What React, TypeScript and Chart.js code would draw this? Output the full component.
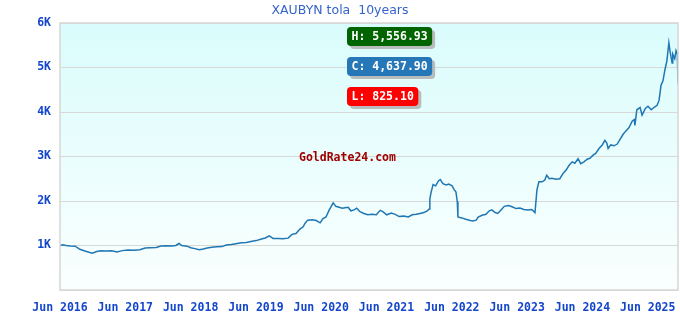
import React, { useEffect, useRef } from "react";
import { Chart, registerables } from "chart.js";

Chart.register(...registerables);

const chartTitle = "XAUBYN tola  10years";
const watermarkText = "GoldRate24.com";

const xTickValues = [2016.4167, 2017.4167, 2018.4167, 2019.4167, 2020.4167, 2021.4167, 2022.4167, 2023.4167, 2024.4167, 2025.4167];
const xTickLabels = ["Jun 2016", "Jun 2017", "Jun 2018", "Jun 2019", "Jun 2020", "Jun 2021", "Jun 2022", "Jun 2023", "Jun 2024", "Jun 2025"];
const yTickValues = [0, 1000, 2000, 3000, 4000, 5000, 6000];
const yTickLabels = ["", "1K", "2K", "3K", "4K", "5K", "6K"];

const highValue = 5556.93;
const closeValue = 4637.9;
const lowValue = 825.1;

const years = [
  2016.42, 2016.46, 2016.51, 2016.57, 2016.65, 2016.72, 2016.81, 2016.91, 2016.98, 2017.04,
  2017.12, 2017.21, 2017.29, 2017.37, 2017.46, 2017.55, 2017.64, 2017.72, 2017.79, 2017.89,
  2017.96, 2018.04, 2018.13, 2018.19, 2018.24, 2018.28, 2018.36, 2018.42, 2018.48, 2018.55,
  2018.61, 2018.67, 2018.74, 2018.82, 2018.90, 2018.96, 2019.04, 2019.11, 2019.19, 2019.27,
  2019.34, 2019.42, 2019.49, 2019.56, 2019.62, 2019.68, 2019.76, 2019.83, 2019.91, 2019.97,
  2020.03, 2020.09, 2020.14, 2020.17, 2020.21, 2020.28, 2020.34, 2020.40, 2020.44, 2020.49,
  2020.54, 2020.57, 2020.60, 2020.64, 2020.69, 2020.74, 2020.78, 2020.83, 2020.87, 2020.92,
  2020.96, 2021.01, 2021.07, 2021.13, 2021.19, 2021.26, 2021.32, 2021.36, 2021.42, 2021.49,
  2021.55, 2021.61, 2021.68, 2021.75, 2021.81, 2021.87, 2021.93, 2021.99, 2022.04, 2022.07,
  2022.08, 2022.10, 2022.13, 2022.17, 2022.21, 2022.24, 2022.28, 2022.33, 2022.37, 2022.42,
  2022.45, 2022.48, 2022.50, 2022.51, 2022.57, 2022.63, 2022.70, 2022.74, 2022.79, 2022.82,
  2022.88, 2022.94, 2022.99, 2023.03, 2023.08, 2023.12, 2023.17, 2023.22, 2023.28, 2023.34,
  2023.40, 2023.46, 2023.52, 2023.58, 2023.64, 2023.69, 2023.72, 2023.75, 2023.80, 2023.84,
  2023.87, 2023.91, 2023.95, 2024.01, 2024.07, 2024.12, 2024.17, 2024.21, 2024.26, 2024.30,
  2024.35, 2024.39, 2024.44, 2024.49, 2024.53, 2024.58, 2024.62, 2024.67, 2024.72, 2024.76,
  2024.79, 2024.81, 2024.85, 2024.90, 2024.95, 2024.99, 2025.04, 2025.08, 2025.13, 2025.18,
  2025.21, 2025.22, 2025.25, 2025.30, 2025.33, 2025.38, 2025.42, 2025.47, 2025.51, 2025.56,
  2025.59, 2025.62, 2025.65, 2025.68, 2025.71, 2025.74, 2025.76, 2025.79, 2025.80, 2025.83,
  2025.85, 2025.87, 2025.88,
];

const prices = [
  1000, 1015, 1000, 990, 985, 915, 870, 825.1, 865, 880,
  875, 880, 855, 885, 900, 895, 905, 945, 950, 955,
  990, 995, 990, 1000, 1045, 1000, 985, 950, 930, 905,
  920, 945, 960, 970, 975, 1010, 1020, 1040, 1060, 1070,
  1090, 1110, 1140, 1170, 1215, 1160, 1160, 1150, 1165, 1250,
  1270, 1370, 1420, 1500, 1570, 1580, 1560, 1510, 1600, 1640,
  1800, 1880, 1960, 1880, 1860, 1840, 1850, 1860, 1780, 1800,
  1840, 1760, 1720, 1690, 1700, 1690, 1790, 1760, 1690, 1730,
  1700, 1650, 1660, 1640, 1690, 1700, 1720, 1740, 1780, 1820,
  2050, 2200, 2370, 2340, 2450, 2480, 2390, 2360, 2380, 2340,
  2260, 2200, 1990, 1640, 1620, 1590, 1560, 1550, 1570, 1640,
  1680, 1700, 1780, 1800, 1740, 1720, 1800, 1880, 1900, 1870,
  1830, 1840, 1810, 1800, 1810, 1740, 2250, 2430, 2430, 2470,
  2580, 2500, 2510, 2490, 2500, 2620, 2700, 2800, 2880, 2850,
  2950, 2840, 2880, 2940, 2960, 3030, 3070, 3180, 3260, 3360,
  3300, 3180, 3260, 3240, 3280, 3380, 3500, 3570, 3650, 3800,
  3830, 3700, 4050, 4100, 3930, 4080, 4130, 4050, 4100, 4150,
  4260, 4600, 4700, 4950, 5150, 5556.93, 5350, 5100, 5300, 5200,
  5380, 5300, 4637.9,
];

const fmt = (v: number) =>
  v.toLocaleString("en-US", { minimumFractionDigits: 2, maximumFractionDigits: 2 });

const monoBold = "bold 11.5px 'DejaVu Sans Mono', 'Liberation Mono', monospace";
const axisBlue = "#1446cc";

function roundRect(ctx: CanvasRenderingContext2D, x: number, y: number, w: number, h: number, r: number) {
  ctx.beginPath();
  ctx.moveTo(x + r, y);
  ctx.lineTo(x + w - r, y);
  ctx.quadraticCurveTo(x + w, y, x + w, y + r);
  ctx.lineTo(x + w, y + h - r);
  ctx.quadraticCurveTo(x + w, y + h, x + w - r, y + h);
  ctx.lineTo(x + r, y + h);
  ctx.quadraticCurveTo(x, y + h, x, y + h - r);
  ctx.lineTo(x, y + r);
  ctx.quadraticCurveTo(x, y, x + r, y);
  ctx.closePath();
}

const decorPlugin = {
  id: "decor",
  beforeDraw(chart: any) {
    const { ctx, chartArea: a } = chart;
    const g = ctx.createLinearGradient(0, a.top, 0, a.bottom);
    g.addColorStop(0, "#dafcfc");
    g.addColorStop(1, "#fafffe");
    ctx.save();
    ctx.fillStyle = g;
    ctx.fillRect(a.left, a.top, a.right - a.left, a.bottom - a.top);
    ctx.restore();
  },
  afterDraw(chart: any) {
    const { ctx, chartArea: a, width } = chart;
    ctx.save();
    // border
    ctx.strokeStyle = "#d6d6d6";
    ctx.lineWidth = 1.5;
    ctx.strokeRect(a.left, a.top, a.right - a.left, a.bottom - a.top);

    // title
    ctx.fillStyle = "#3563cc";
    ctx.font = "12.5px 'DejaVu Sans', sans-serif";
    ctx.textAlign = "center";
    ctx.textBaseline = "middle";
    ctx.fillText(chartTitle, width / 2, 11);

    // watermark
    ctx.fillStyle = "#a00000";
    ctx.font = monoBold;
    ctx.textAlign = "left";
    ctx.fillText(watermarkText, 299, 158);

    // H / C / L boxes
    const boxes = [
      { text: "H: " + fmt(highValue), color: "#006400", y: 27 },
      { text: "C: " + fmt(closeValue), color: "#2677b8", y: 57 },
      { text: "L: " + fmt(lowValue), color: "#ff0000", y: 87 },
    ];
    const bx = 347;
    const bh = 19;
    ctx.font = monoBold;
    for (const b of boxes) {
      const w = ctx.measureText(b.text).width + 9;
      ctx.fillStyle = "#b9bcbc";
      roundRect(ctx, bx + 3, b.y + 3, w, bh, 4);
      ctx.fill();
      ctx.fillStyle = b.color;
      roundRect(ctx, bx, b.y, w, bh, 4);
      ctx.fill();
      ctx.fillStyle = "#ffffff";
      ctx.textAlign = "left";
      ctx.textBaseline = "middle";
      ctx.fillText(b.text, bx + 4.5, b.y + bh / 2 + 0.5);
    }
    ctx.restore();
  },
};

export default function App() {
  const ref = useRef<HTMLCanvasElement | null>(null);

  useEffect(() => {
    if (!ref.current) return;
    const points = years.map((x, i) => ({ x, y: prices[i] }));
    const chart = new Chart(ref.current, {
      type: "line",
      data: {
        datasets: [
          {
            data: points,
            borderColor: "#1f77b4",
            borderWidth: 1.5,
            pointRadius: 0,
            tension: 0,
            fill: false,
          },
        ],
      },
      options: {
        animation: false,
        responsive: false,
        devicePixelRatio: 1,
        layout: { padding: { top: 23, right: 2, left: 0, bottom: 0 } },
        plugins: {
          legend: { display: false },
          title: { display: false },
          tooltip: { enabled: false },
        },
        scales: {
          x: {
            type: "linear",
            min: 2016.4167,
            max: 2025.88,
            grid: { display: false, drawTicks: false },
            border: { display: false },
            afterBuildTicks: (scale: any) => {
              scale.ticks = xTickValues.map((v) => ({ value: v }));
            },
            afterFit: (scale: any) => {
              scale.height = 30;
              scale.paddingLeft = 0;
              scale.paddingRight = 0;
            },
            ticks: {
              autoSkip: false,
              maxRotation: 0,
              minRotation: 0,
              padding: 11,
              color: axisBlue,
              font: { family: "'DejaVu Sans Mono', monospace", size: 11.5, weight: "bold" },
              callback: (v: any) => {
                const i = xTickValues.findIndex((t) => Math.abs(t - Number(v)) < 1e-3);
                return i >= 0 ? xTickLabels[i] : "";
              },
            },
          },
          y: {
            min: 0,
            max: 6000,
            grid: { color: "#d8d8d8", lineWidth: 1, drawTicks: false },
            border: { display: false },
            afterBuildTicks: (scale: any) => {
              scale.ticks = yTickValues.map((v) => ({ value: v }));
            },
            afterFit: (scale: any) => {
              scale.width = 60;
              scale.paddingTop = 0;
              scale.paddingBottom = 0;
            },
            ticks: {
              padding: 9,
              color: axisBlue,
              font: { family: "'DejaVu Sans Mono', monospace", size: 11.5, weight: "bold" },
              callback: (v: any) => {
                const i = yTickValues.indexOf(Number(v));
                return i >= 0 ? yTickLabels[i] : "";
              },
            },
          },
        },
      },
      plugins: [decorPlugin],
    } as any);
    return () => chart.destroy();
  }, []);

  return (
    <div style={{ position: "absolute", left: 0, top: 0, width: 680, height: 320, background: "#ffffff" }}>
      <canvas ref={ref} width={680} height={320} style={{ display: "block", width: 680, height: 320 }} />
    </div>
  );
}
